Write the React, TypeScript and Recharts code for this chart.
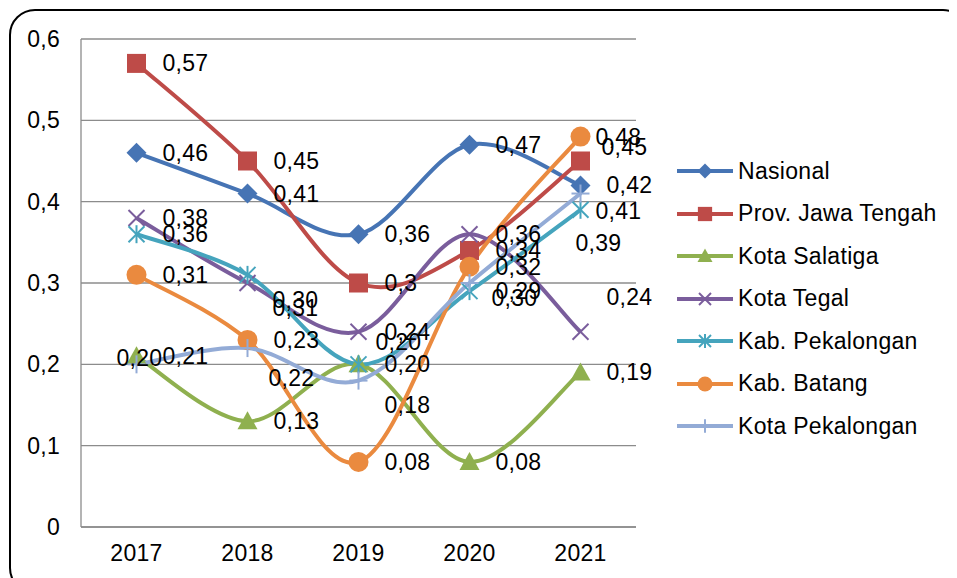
import React from "react";
import {
  LineChart,
  Line,
  XAxis,
  YAxis,
  CartesianGrid,
  LabelList,
} from "recharts";

const years = ["2017", "2018", "2019", "2020", "2021"];
const nasional = [0.46, 0.41, 0.36, 0.47, 0.42];
const jawaTengah = [0.57, 0.45, 0.3, 0.34, 0.45];
const salatiga = [0.21, 0.13, 0.2, 0.08, 0.19];
const tegal = [0.38, 0.3, 0.24, 0.36, 0.24];
const kabPekalongan = [0.36, 0.31, 0.2, 0.29, 0.39];
const batang = [0.31, 0.23, 0.08, 0.32, 0.48];
const kotaPekalongan = [0.2, 0.22, 0.18, 0.3, 0.41];
const yTicks = [0, 0.1, 0.2, 0.3, 0.4, 0.5, 0.6];

type Shape = "diamond" | "square" | "triangle" | "x" | "star" | "circle" | "plus";

const series: {
  key: string;
  name: string;
  color: string;
  shape: Shape;
  general?: boolean;
}[] = [
  { key: "nasional", name: "Nasional", color: "#4674B4", shape: "diamond" },
  { key: "jawaTengah", name: "Prov. Jawa Tengah", color: "#BE4B48", shape: "square", general: true },
  { key: "salatiga", name: "Kota Salatiga", color: "#8FB04F", shape: "triangle" },
  { key: "tegal", name: "Kota Tegal", color: "#7A5D9C", shape: "x" },
  { key: "kabPekalongan", name: "Kab. Pekalongan", color: "#45A4BD", shape: "star" },
  { key: "batang", name: "Kab. Batang", color: "#EA8A3F", shape: "circle" },
  { key: "kotaPekalongan", name: "Kota Pekalongan", color: "#93ABD6", shape: "plus" },
];

const data = years.map((year, i) => ({
  year,
  nasional: nasional[i],
  jawaTengah: jawaTengah[i],
  salatiga: salatiga[i],
  tegal: tegal[i],
  kabPekalongan: kabPekalongan[i],
  batang: batang[i],
  kotaPekalongan: kotaPekalongan[i],
}));

// labels that were dragged away from their point in the original
const labelNudge: Record<string, [number, number]> = {
  "kotaPekalongan-0": [-46, -6],
  "tegal-1": [-1, 17],
  "kabPekalongan-1": [-1, 33],
  "kotaPekalongan-1": [-5, 30],
  "kabPekalongan-2": [-9, -22],
  "kotaPekalongan-2": [0, 24],
  "kotaPekalongan-3": [-4, 15],
  "jawaTengah-4": [-5, -14],
  "tegal-4": [0, -35],
  "kabPekalongan-4": [-31, 33],
  "batang-4": [-11, 0],
  "kotaPekalongan-4": [-11, 17],
};

const FONT = '"Liberation Sans", Arial, sans-serif';
const FS = 23;
const LS = 0.3;

// excel style smoothed line (catmull-rom as bezier)
const excelSmooth = (context: any) => {
  let pts: number[][] = [];
  return {
    areaStart() {},
    areaEnd() {},
    lineStart() {
      pts = [];
    },
    point(x: number, y: number) {
      pts.push([+x, +y]);
    },
    lineEnd() {
      const n = pts.length;
      if (!n) return;
      context.moveTo(pts[0][0], pts[0][1]);
      for (let i = 0; i < n - 1; i++) {
        const p0 = pts[Math.max(i - 1, 0)];
        const p1 = pts[i];
        const p2 = pts[i + 1];
        const p3 = pts[Math.min(i + 2, n - 1)];
        context.bezierCurveTo(
          p1[0] + (p2[0] - p0[0]) / 6,
          p1[1] + (p2[1] - p0[1]) / 6,
          p2[0] - (p3[0] - p1[0]) / 6,
          p2[1] - (p3[1] - p1[1]) / 6,
          p2[0],
          p2[1]
        );
      }
    },
  };
};

function Marker({ shape, cx, cy, color, s = 1 }: { shape: Shape; cx: number; cy: number; color: string; s?: number }) {
  switch (shape) {
    case "diamond": {
      const h = 10 * s;
      return <polygon points={`${cx},${cy - h} ${cx + h},${cy} ${cx},${cy + h} ${cx - h},${cy}`} fill={color} />;
    }
    case "square": {
      const h = 9.5 * s;
      return <rect x={cx - h} y={cy - h} width={2 * h} height={2 * h} fill={color} />;
    }
    case "triangle": {
      const h = 10 * s;
      return <polygon points={`${cx},${cy - h} ${cx + h},${cy + h * 0.8} ${cx - h},${cy + h * 0.8}`} fill={color} />;
    }
    case "x": {
      const h = 8 * s;
      return (
        <g stroke={color} strokeWidth={2}>
          <line x1={cx - h} y1={cy - h} x2={cx + h} y2={cy + h} />
          <line x1={cx - h} y1={cy + h} x2={cx + h} y2={cy - h} />
        </g>
      );
    }
    case "star": {
      const h = 8 * s;
      return (
        <g stroke={color} strokeWidth={2}>
          <line x1={cx - h} y1={cy - h} x2={cx + h} y2={cy + h} />
          <line x1={cx - h} y1={cy + h} x2={cx + h} y2={cy - h} />
          <line x1={cx} y1={cy - h - 1} x2={cx} y2={cy + h + 1} />
        </g>
      );
    }
    case "circle":
      return <circle cx={cx} cy={cy} r={10 * s} fill={color} />;
    case "plus": {
      const h = 9 * s;
      return (
        <g stroke={color} strokeWidth={2}>
          <line x1={cx - h} y1={cy} x2={cx + h} y2={cy} />
          <line x1={cx} y1={cy - h} x2={cx} y2={cy + h} />
        </g>
      );
    }
  }
  return null;
}

const fmt = (v: number, general?: boolean) =>
  (general ? String(v) : v.toFixed(2)).replace(".", ",");

function Legend() {
  return (
    <div style={{ position: "absolute", left: 669, top: 142, fontFamily: FONT, fontSize: FS, letterSpacing: LS }}>
      {series.map((s) => (
        <div key={s.key} style={{ display: "flex", alignItems: "center", height: 42.5 }}>
          <svg width={61} height={24} style={{ overflow: "visible" }}>
            <line x1={0} y1={12} x2={56} y2={12} stroke={s.color} strokeWidth={4} />
            <Marker shape={s.shape} cx={28} cy={12} color={s.color} s={0.75} />
          </svg>
          <span style={{ color: "#000" }}>{s.name}</span>
        </div>
      ))}
    </div>
  );
}

export default function App() {
  return (
    <div style={{ position: "relative", width: 949, height: 570, overflow: "hidden", fontFamily: FONT }}>
      <div
        style={{
          position: "absolute",
          left: 1,
          top: 1,
          width: 960,
          height: 585,
          border: "2px solid #000",
          borderRadius: 26,
          boxSizing: "border-box",
        }}
      />
      <LineChart
        width={949}
        height={570}
        data={data}
        margin={{ top: 31, right: 321, bottom: 11, left: 0 }}
        style={{ position: "absolute", left: 0, top: 0 }}
      >
        <CartesianGrid vertical={false} stroke="#8C8C8C" strokeWidth={1.3} />
        <XAxis
          dataKey="year"
          height={40}
          padding={{ left: 55.5, right: 55.5 }}
          axisLine={{ stroke: "#8C8C8C", strokeWidth: 1.3 }}
          tickLine={false}
          tickSize={0}
          tickMargin={18}
          tick={{ fill: "#000", fontSize: FS, fontFamily: FONT, letterSpacing: LS }}
        />
        <YAxis
          width={73}
          domain={[0, 0.6]}
          ticks={yTicks}
          interval={0}
          axisLine={{ stroke: "#8C8C8C", strokeWidth: 1.3 }}
          tickLine={false}
          tickSize={0}
          tickMargin={21}
          tickFormatter={(v: number) => (v === 0 ? "0" : v.toFixed(1).replace(".", ","))}
          tick={{ fill: "#000", fontSize: FS, fontFamily: FONT, letterSpacing: LS }}
        />
        {series.map((s) => (
          <Line
            key={s.key}
            dataKey={s.key}
            name={s.name}
            type={excelSmooth as any}
            stroke={s.color}
            strokeWidth={4}
            isAnimationActive={false}
            dot={(p: any) => (
              <Marker key={`${s.key}-${p.index}`} shape={s.shape} cx={p.cx} cy={p.cy} color={s.color} />
            )}
            activeDot={false}
          />
        ))}
        {/* data labels drawn in a second pass so they sit above every line */}
        {series.map((s) => (
          <Line
            key={`${s.key}-labels`}
            dataKey={s.key}
            stroke="none"
            dot={false}
            activeDot={false}
            legendType="none"
            isAnimationActive={false}
          >
            <LabelList
              dataKey={s.key}
              content={(p: any) => {
                const [dx, dy] = labelNudge[`${s.key}-${p.index}`] || [0, 0];
                return (
                  <text
                    x={p.x + 26 + dx}
                    y={p.y + dy}
                    dominantBaseline="central"
                    fontSize={FS}
                    fontFamily={FONT}
                    letterSpacing={LS}
                    fill="#000"
                  >
                    {fmt(Number(p.value), s.general)}
                  </text>
                );
              }}
            />
          </Line>
        ))}
      </LineChart>
      <Legend />
    </div>
  );
}
